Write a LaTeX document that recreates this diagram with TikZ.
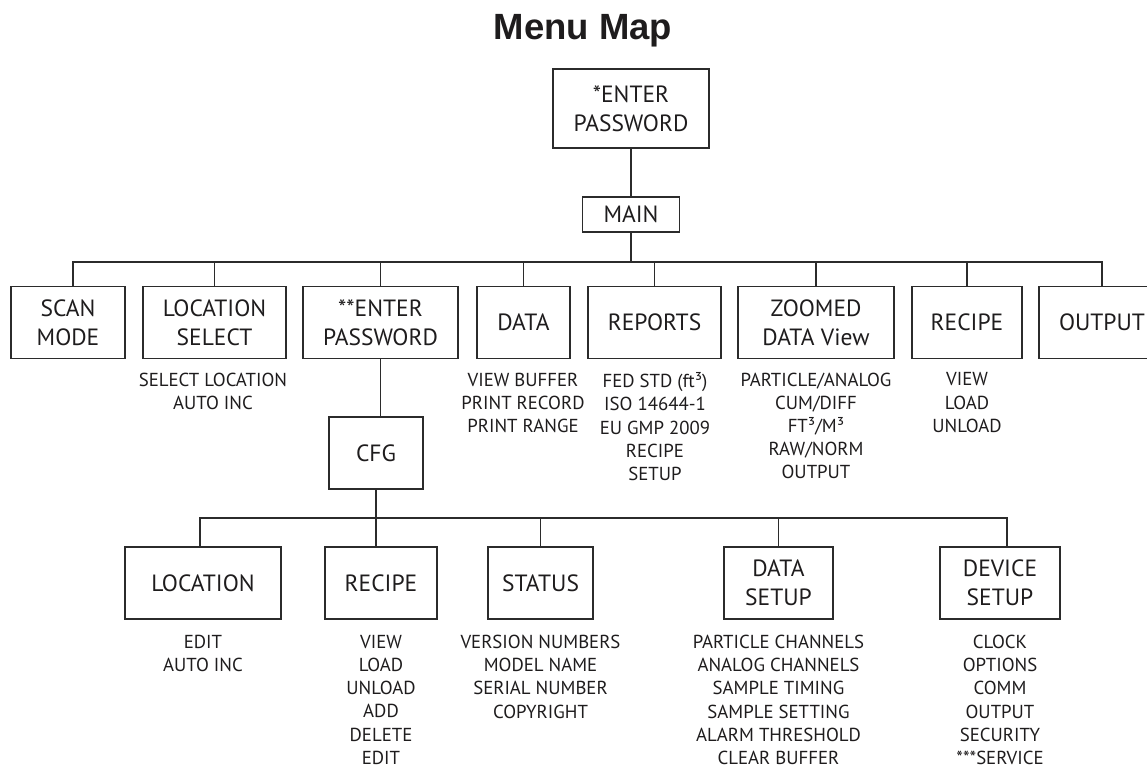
\documentclass[tikz,border=0pt]{standalone}
\usepackage{fontspec}
\setmainfont{PT Sans}
\newfontfamily\titlefont{Liberation Sans}
\definecolor{ink}{HTML}{1E1C1D}
\definecolor{linec}{HTML}{2B2B2B}
\begin{document}
\begin{tikzpicture}[x=1pt,y=-1pt,
  box/.style={draw=linec, line width=1.6pt, align=center, inner sep=0pt,
    text=ink, font=\fontsize{23.5}{29}\selectfont, minimum height=72pt},
  items/.style={anchor=north, align=center, inner sep=0pt, text=ink,
    font=\fontsize{18.8}{23.2}\selectfont},
  wire/.style={draw=linec, line width=1.6pt}]
\useasboundingbox (0,0) rectangle (1147,767);
\node[anchor=base, inner sep=0pt, text=ink, font=\titlefont\bfseries\fontsize{36.5}{40}\selectfont] (title) at (583,40) {Menu Map};
% top
\node[box, minimum width=156pt, minimum height=79pt] (top) at (631,108.5) {*ENTER\\PASSWORD};
\node[box, minimum width=97pt, minimum height=35pt] (main) at (631,214.5) {MAIN};
% first row
\node[box, minimum width=114pt] (scan) at (68,322.5) {SCAN\\MODE};
\node[box, minimum width=143pt] (locsel) at (214.5,322.5) {LOCATION\\SELECT};
\node[box, minimum width=155pt] (enter2) at (380.5,322.5) {**ENTER\\PASSWORD};
\node[box, minimum width=93pt] (data) at (523.5,322.5) {DATA};
\node[box, minimum width=133pt] (reports) at (654.5,322.5) {REPORTS};
\node[box, minimum width=156pt] (zoomed) at (816,322.5) {ZOOMED\\DATA View};
\node[box, minimum width=110pt] (recipe) at (967,322.5) {RECIPE};
\node[box, minimum width=126pt] (output) at (1102,322.5) {OUTPUT};
% items first row
\node[items] (locselI) at (213,372.5) {SELECT LOCATION\\AUTO INC};
\node[items] (dataI) at (523,372.5) {VIEW BUFFER\\PRINT RECORD\\PRINT RANGE};
\node[items] (reportsI) at (655,372.5) {FED STD (ft³)\\ISO 14644-1\\EU GMP 2009\\RECIPE\\SETUP};
\node[items] (zoomedI) at (816,372.5) {PARTICLE/ANALOG\\CUM/DIFF\\FT³/M³\\RAW/NORM\\OUTPUT};
\node[items] (recipeI) at (967,372.5) {VIEW\\LOAD\\UNLOAD};
% cfg
\node[box, minimum width=94pt] (cfg) at (376,453) {CFG};
% second row
\node[box, minimum width=156pt] (loc) at (203,583) {LOCATION};
\node[box, minimum width=112pt] (recipe2) at (381,583) {RECIPE};
\node[box, minimum width=105pt] (status) at (540.5,583) {STATUS};
\node[box, minimum width=109pt] (dsetup) at (778.5,583) {DATA\\SETUP};
\node[box, minimum width=120pt] (devsetup) at (1000,583) {DEVICE\\SETUP};
% items second row
\node[items] (locI) at (203,635) {EDIT\\AUTO INC};
\node[items] (recipe2I) at (381,635) {VIEW\\LOAD\\UNLOAD\\ADD\\DELETE\\EDIT};
\node[items] (statusI) at (540.5,635) {VERSION NUMBERS\\MODEL NAME\\SERIAL NUMBER\\COPYRIGHT};
\node[items] (dsetupI) at (778.5,635) {PARTICLE CHANNELS\\ANALOG CHANNELS\\SAMPLE TIMING\\SAMPLE SETTING\\ALARM THRESHOLD\\CLEAR BUFFER};
\node[items] (devsetupI) at (1000,635) {CLOCK\\OPTIONS\\COMM\\OUTPUT\\SECURITY\\***SERVICE};
% connectors
\coordinate (bus) at (0,262);
\coordinate (bus2) at (0,518);
\draw[wire] (top.south) -- (main.north);
\draw[wire] (main.south) -- (main.south |- bus);
\draw[wire] ([xshift=5pt]scan.north) |- (output.north |- bus) -- (output.north);
\foreach \n in {locsel,enter2,data,reports,zoomed,recipe}
  \draw[wire] (\n.north) -- (\n.north |- bus);
\draw[wire] (enter2.south) -- (enter2.south |- cfg.north);
\draw[wire] (cfg.south) -- (cfg.south |- recipe2.north);
\draw[wire] ([xshift=-3pt]loc.north) |- ([xshift=7pt]devsetup.north |- bus2) -- ([xshift=7pt]devsetup.north);
\foreach \n in {status,dsetup}
  \draw[wire] (\n.north) -- (\n.north |- bus2);
\end{tikzpicture}
\end{document}
